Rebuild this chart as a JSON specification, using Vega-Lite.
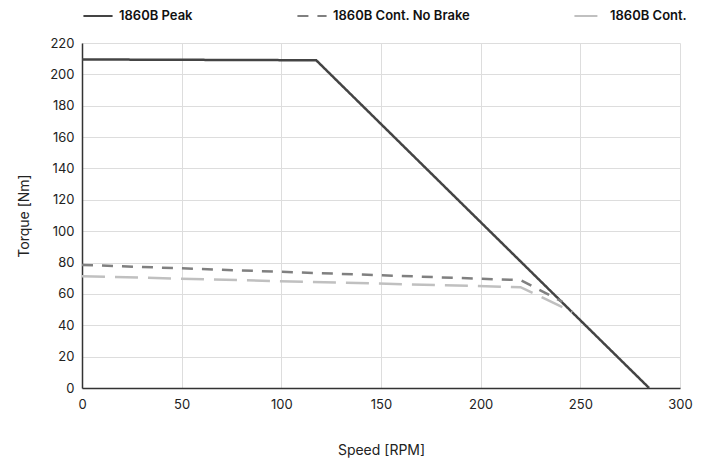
{
  "$schema": "https://vega.github.io/schema/vega-lite/v6.json",
  "autosize": {"type": "none"},
  "width": 598,
  "height": 345,
  "padding": {"left": 82, "top": 43, "right": 31, "bottom": 71},
  "background": "white",
  "config": {
    "font": "Inter",
    "view": {"stroke": null},
    "axis": {"labelFont": "Inter", "titleFont": "Inter", "labelFontSize": 13, "titleFontSize": 14, "titleFontWeight": "normal", "labelColor": "#222", "titleColor": "#222", "gridColor": "#dddddd", "gridWidth": 1, "domainColor": "#333", "domainWidth": 1.5, "ticks": false, "labelFlush": false}
  },
  "data": {"values": [
    {"series": "1860B Peak", "speed": 0, "torque": 209.5},
    {"series": "1860B Peak", "speed": 117.5, "torque": 209},
    {"series": "1860B Peak", "speed": 284.5, "torque": 0},
    {"series": "1860B Cont. No Brake", "speed": 0, "torque": 78.5},
    {"series": "1860B Cont. No Brake", "speed": 220, "torque": 68.8},
    {"series": "1860B Cont. No Brake", "speed": 241, "torque": 55},
    {"series": "1860B Cont.", "speed": 0, "torque": 71.3},
    {"series": "1860B Cont.", "speed": 220, "torque": 64.3},
    {"series": "1860B Cont.", "speed": 246, "torque": 48.6}
  ]},
  "mark": {"type": "line", "strokeWidth": 2.5},
  "encoding": {
    "x": {"field": "speed", "type": "quantitative", "title": "Speed [RPM]", "scale": {"domain": [0, 300], "nice": false}, "axis": {"values": [0, 50, 100, 150, 200, 250, 300], "labelPadding": 10, "titlePadding": 32}},
    "y": {"field": "torque", "type": "quantitative", "title": "Torque [Nm]", "scale": {"domain": [0, 220], "nice": false}, "axis": {"values": [0, 20, 40, 60, 80, 100, 120, 140, 160, 180, 200, 220], "labelPadding": 8, "titlePadding": 18}},
    "detail": {"field": "series"},
    "color": {
      "field": "series", "type": "nominal",
      "scale": {"domain": ["1860B Peak", "1860B Cont. No Brake", "1860B Cont."], "range": ["#444444", "#808080", "#c0c0c0"]},
      "legend": {"orient": "none", "legendX": 0, "legendY": -43, "direction": "horizontal", "title": null, "symbolSize": 850, "symbolStrokeWidth": 2, "labelFontSize": 13, "labelFontWeight": 600, "labelFont": "Inter", "labelColor": "#111", "labelOffset": 5, "columnPadding": 100}
    },
    "strokeDash": {
      "field": "series", "type": "nominal",
      "scale": {"domain": ["1860B Peak", "1860B Cont. No Brake", "1860B Cont."], "range": [[1, 0], [11, 9], [23, 10]]},
      "legend": null
    }
  }
}
